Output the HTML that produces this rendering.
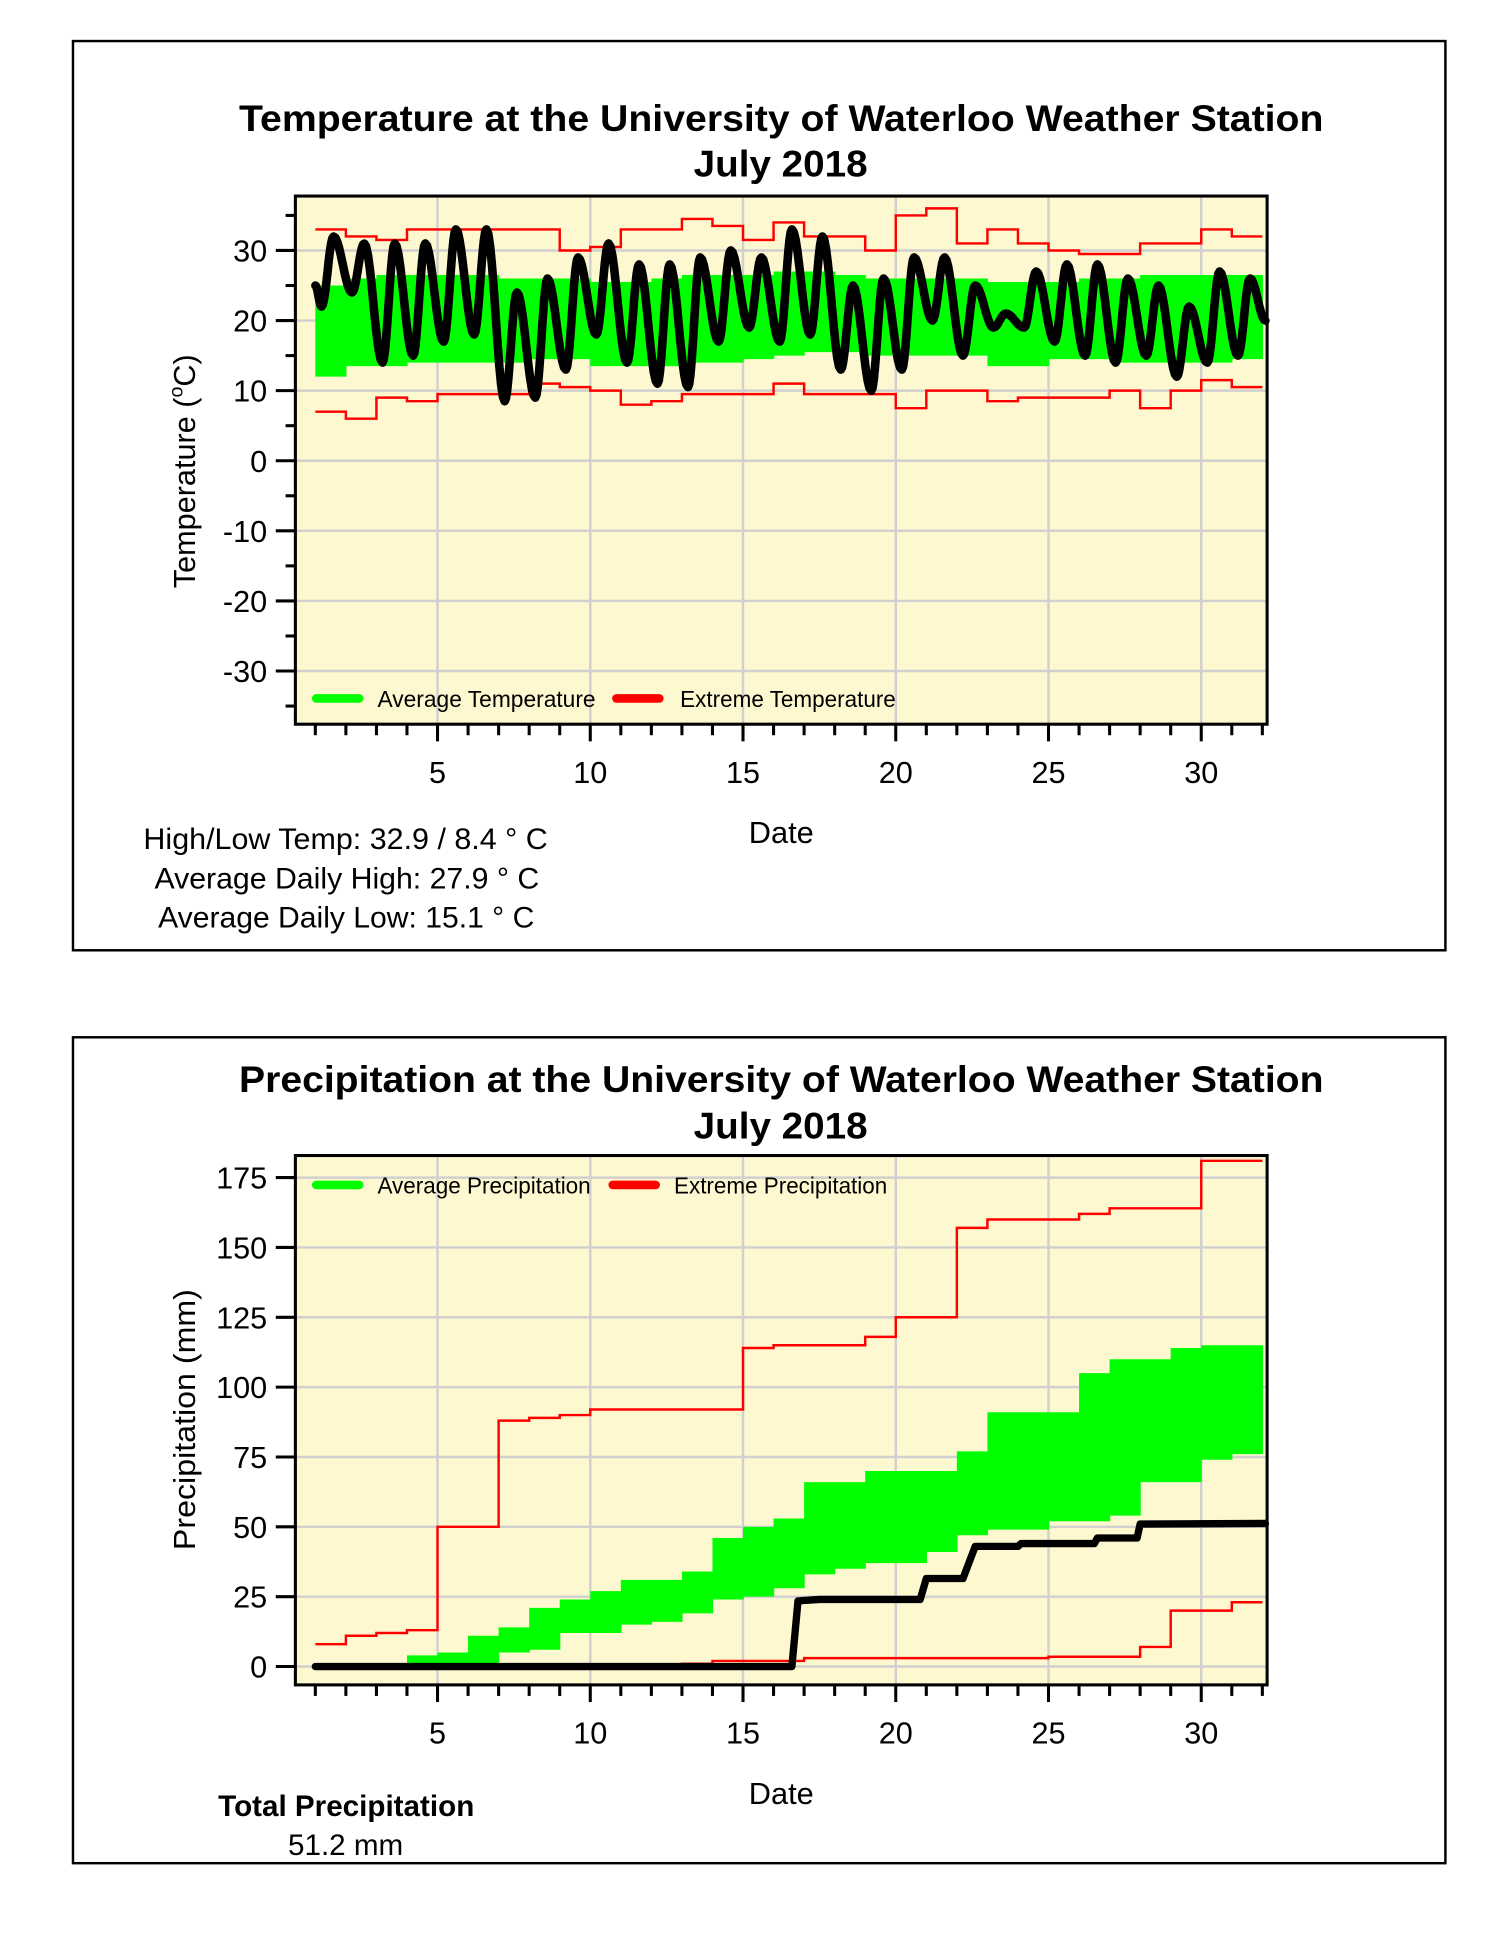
<!DOCTYPE html>
<html><head><meta charset="utf-8"><style>
html,body{margin:0;padding:0;background:#fff;}
svg{display:block;font-family:"Liberation Sans",Arial,sans-serif;}
</style></head><body>
<svg id="s" width="1500" height="1941" viewBox="0 0 1224 1584" xmlns="http://www.w3.org/2000/svg">
<rect x="0" y="0" width="1224" height="1584" fill="#fff"/>
<rect x="59.5" y="33.5" width="1120" height="742" fill="none" stroke="#000" stroke-width="2"/>
<rect x="59.5" y="846.5" width="1120" height="674" fill="none" stroke="#000" stroke-width="2"/>
<g font-weight="bold" font-size="30">
<text x="195" y="107" textLength="885" lengthAdjust="spacingAndGlyphs">Temperature at the University of Waterloo Weather Station</text>
<text x="566" y="144" textLength="142" lengthAdjust="spacingAndGlyphs">July 2018</text>
<text x="195" y="891" textLength="885" lengthAdjust="spacingAndGlyphs">Precipitation at the University of Waterloo Weather Station</text>
<text x="566" y="929" textLength="142" lengthAdjust="spacingAndGlyphs">July 2018</text>
</g>
<g id="p1"></g><g id="p2"></g>
<g font-size="25">
<text x="611" y="688" textLength="53" lengthAdjust="spacingAndGlyphs">Date</text>
<text x="611" y="1472" textLength="53" lengthAdjust="spacingAndGlyphs">Date</text>
<text transform="translate(159,480) rotate(-90)">Temperature (<tspan font-size="16" dy="-10">o</tspan><tspan dy="10">C)</tspan></text>
<text transform="translate(159,1265) rotate(-90)" textLength="213" lengthAdjust="spacingAndGlyphs">Precipitation (mm)</text>
</g>
<g font-size="24" xml:space="preserve">
<text x="117" y="693" textLength="330" lengthAdjust="spacingAndGlyphs">High/Low Temp:  32.9 / 8.4 ° C</text>
<text x="126" y="725" textLength="314" lengthAdjust="spacingAndGlyphs">Average Daily High:  27.9 ° C</text>
<text x="129" y="757" textLength="307" lengthAdjust="spacingAndGlyphs">Average Daily Low:  15.1 ° C</text>
<text x="178" y="1482" font-weight="bold" textLength="209" lengthAdjust="spacingAndGlyphs">Total Precipitation</text>
<text x="235" y="1514" textLength="94" lengthAdjust="spacingAndGlyphs">51.2 mm</text>
</g>
</svg>
<script>
const NS="http://www.w3.org/2000/svg";
function el(p,t,a,txt){const e=document.createElementNS(NS,t);for(const k in a)e.setAttribute(k,a[k]);if(txt!==undefined)e.textContent=txt;p.appendChild(e);return e;}
const X=d=>357+(d-5)*24.93;
function steps(arr,Y){let s="";for(let i=0;i<arr.length;i++){const x0=X(i+1),x1=X(i+2);s+=(i?"L":"M")+x0+","+Y(arr[i])+"L"+x1+","+Y(arr[i]);}return s;}
function band(lo,hi,Y){let s="";for(let i=0;i<lo.length;i++){s+=`M${X(i+1)},${Y(hi[i])}L${X(i+2)+0.5},${Y(hi[i])}L${X(i+2)+0.5},${Y(lo[i])}L${X(i+1)},${Y(lo[i])}Z`;}return s;}
function frame(g,top,bot,Y,majors){
 el(g,"rect",{x:241,y:top,width:793,height:bot-top,fill:"#fdf8d0"});
 for(const v of majors){el(g,"line",{x1:241,x2:1034,y1:Y(v),y2:Y(v),stroke:"#d0d0d0","stroke-width":2});}
 for(let d=5;d<=30;d+=5)el(g,"line",{x1:X(d),x2:X(d),y1:top,y2:bot,stroke:"#d0d0d0","stroke-width":2});
}
function axes(g,top,bot,Y,majors,minors){
 el(g,"rect",{x:241,y:top,width:793,height:bot-top,fill:"none",stroke:"#000","stroke-width":2.5});
 for(const v of majors){el(g,"line",{x1:225,x2:241,y1:Y(v),y2:Y(v),stroke:"#000","stroke-width":2.5});el(g,"text",{x:218,y:Y(v)+9,"font-size":25,"text-anchor":"end"},String(v));}
 for(const v of minors)el(g,"line",{x1:233,x2:241,y1:Y(v),y2:Y(v),stroke:"#000","stroke-width":2.5});
 for(let d=1;d<=32;d++)el(g,"line",{x1:X(d),x2:X(d),y1:bot,y2:bot+(d%5==0?14:9),stroke:"#000","stroke-width":2.5});
 for(let d=5;d<=30;d+=5)el(g,"text",{x:X(d),y:bot+48,"font-size":25,"text-anchor":"middle"},String(d));
}
// Temperature
const g1=document.getElementById("p1");const Y1=v=>376-5.72*v;
frame(g1,160,591,Y1,[30,20,10,0,-10,-20,-30]);
const glo=[12,13.5,13.5,14,14,14,14,14.5,14.5,13.5,13.5,13.5,14,14,14.5,15,15.5,15.5,15,15,15,15,13.5,13.5,14.5,14.5,14,14,14,14,14.5];
const ghi=[25,26,26.5,26.5,26.5,26.5,26,26,26,25.5,25.5,26,26.5,26.5,26.5,27,27,26.5,26,26,26,26,25.5,25.5,25.5,26,26,26.5,26.5,26.5,26.5];
el(g1,"path",{d:band(glo,ghi,Y1),fill:"#00ff00"});
const rhi=[33,32,31.5,33,33,33,33,33,30,30.5,33,33,34.5,33.5,31.5,34,32,32,30,35,36,31,33,31,30,29.5,29.5,31,31,33,32];
const rlo=[7,6,9,8.5,9.5,9.5,9.5,11,10.5,10,8,8.5,9.5,9.5,9.5,11,9.5,9.5,9.5,7.5,10,10,8.5,9,9,9,10,7.5,10,11.5,10.5];
el(g1,"path",{d:steps(rhi,Y1),fill:"none",stroke:"#ff0000","stroke-width":2});
el(g1,"path",{d:steps(rlo,Y1),fill:"none",stroke:"#ff0000","stroke-width":2});
const hl=[[32,22],[31,24],[31,14],[31,15],[33,17],[33,18],[24,8.5],[26,9],[29,13],[31,18],[28,14],[28,11],[29,10.5],[30,17],[29,19],[33,17],[32,18],[25,13],[26,10],[29,13],[29,20],[25,15],[21,19],[27,19],[28,17],[28,15],[26,14],[25,15],[22,12],[27,14],[26,15]];
let pts=[[1,25]];for(let i=0;i<hl.length;i++){const d=i+1;pts.push([d+0.2,hl[i][1]]);pts.push([d+0.6,hl[i][0]]);}pts.push([32.1,20]);
pts[1][1]=22;
let s="";for(let i=0;i<pts.length-1;i++){const [a,va]=pts[i],[b,vb]=pts[i+1];for(let k=0;k<=10;k++){const t=k/10,v=va+(vb-va)*(1-Math.cos(Math.PI*t))/2;s+=(s?"L":"M")+X(a+(b-a)*t).toFixed(1)+","+Y1(v).toFixed(1);}}
el(g1,"path",{d:s,fill:"none",stroke:"#000","stroke-width":7,"stroke-linejoin":"round","stroke-linecap":"round"});
axes(g1,160,591,Y1,[30,20,10,0,-10,-20,-30],[35,25,15,5,-5,-15,-25,-35]);
el(g1,"line",{x1:258,x2:293,y1:570,y2:570,stroke:"#00ff00","stroke-width":7,"stroke-linecap":"round"});
el(g1,"text",{x:308,y:577,"font-size":19,textLength:178,lengthAdjust:"spacingAndGlyphs"},"Average Temperature");
el(g1,"line",{x1:503,x2:538,y1:570,y2:570,stroke:"#ff0000","stroke-width":7,"stroke-linecap":"round"});
el(g1,"text",{x:555,y:577,"font-size":19,textLength:176,lengthAdjust:"spacingAndGlyphs"},"Extreme Temperature");
// Precipitation
const g2=document.getElementById("p2");const Y2=v=>1360-2.28*v;
frame(g2,943,1375,Y2,[175,150,125,100,75,50,25,0]);
const pu=[0,0,1,4,5,11,14,21,24,27,31,31,34,46,50,53,66,66,70,70,70,77,91,91,91,105,110,110,114,115,115];
const pl=[0,0,0,0,0,1,5,6,12,12,15,16,19,24,25,28,33,35,37,37,41,47,49,49,52,52,54,66,66,74,76];
el(g2,"path",{d:band(pl,pu,Y2),fill:"#00ff00"});
const eu=[8,11,12,13,50,50,88,89,90,92,92,92,92,92,114,115,115,115,118,125,125,157,160,160,160,162,164,164,164,181,181];
const ea=[0,0,0,0,0,0,0,0,0.5,0.5,0.5,0.5,1,2,2,2,3,3,3,3,3,3,3,3,3.5,3.5,3.5,7,20,20,23];
el(g2,"path",{d:steps(eu,Y2),fill:"none",stroke:"#ff0000","stroke-width":2});
el(g2,"path",{d:steps(ea,Y2),fill:"none",stroke:"#ff0000","stroke-width":2});
const bk=[[1,0],[16.6,0],[16.8,23.5],[17.5,24],[20.8,24],[21,31.5],[22.2,31.5],[22.6,43],[24,43],[24.1,44],[26.5,44],[26.6,46],[27.9,46],[28,51],[32.1,51.2]];
el(g2,"path",{d:bk.map((p,i)=>(i?"L":"M")+X(p[0])+","+Y2(p[1])).join(""),fill:"none",stroke:"#000","stroke-width":6,"stroke-linejoin":"round","stroke-linecap":"round"});
axes(g2,943,1375,Y2,[175,150,125,100,75,50,25,0],[]);
el(g2,"line",{x1:258,x2:293,y1:967,y2:967,stroke:"#00ff00","stroke-width":7,"stroke-linecap":"round"});
el(g2,"text",{x:308,y:974,"font-size":19,textLength:174,lengthAdjust:"spacingAndGlyphs"},"Average Precipitation");
el(g2,"line",{x1:500,x2:535,y1:967,y2:967,stroke:"#ff0000","stroke-width":7,"stroke-linecap":"round"});
el(g2,"text",{x:550,y:974,"font-size":19,textLength:174,lengthAdjust:"spacingAndGlyphs"},"Extreme Precipitation");
</script>
</body></html>
